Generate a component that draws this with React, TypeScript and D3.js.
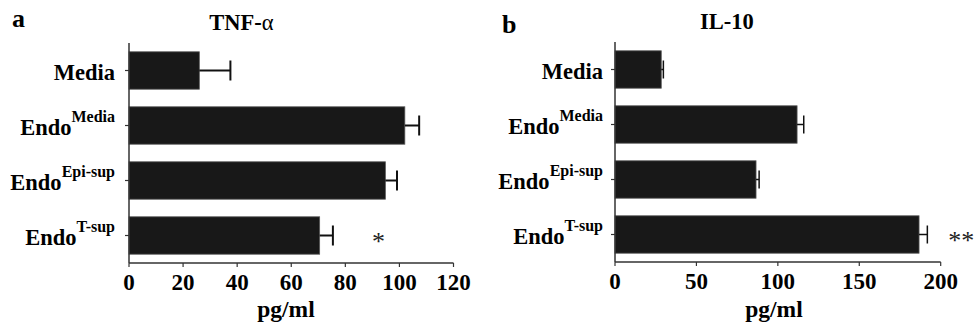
import React from 'react'
import * as d3 from 'd3'

const labelBase = ['Media', 'Endo', 'Endo', 'Endo']
const labelSup = ['', 'Media', 'Epi-sup', 'T-sup']

const tnfValues = [26, 102, 94.8, 70.5]
const tnfErrors = [11.5, 5.3, 4.3, 4.9]
const tnfTicks = [0, 20, 40, 60, 80, 100, 120]

const il10Values = [28.4, 111.8, 86.6, 186.7]
const il10Errors = [1.3, 4.1, 1.9, 5.1]
const il10Ticks = [0, 50, 100, 150, 200]

const FONT = '"Liberation Serif", "Times New Roman", serif'

type PanelProps = {
  letter: string
  title: string
  titleGreek: string
  values: number[]
  errors: number[]
  ticks: number[]
  x0: number
  x1: number
  y0: number
  y1: number
  letterX: number
  letterY: number
  titleX: number
  titleY: number
  unitX: number
  labelGap: number
  capH: number
  errWidth: number
  star: string
  starOffset: number
}

function Panel(p: PanelProps) {
  const xScale = d3.scaleLinear()
    .domain([0, p.ticks[p.ticks.length - 1]])
    .range([p.x0, p.x1])

  const yScale = d3.scaleBand<number>()
    .domain(d3.range(p.values.length))
    .range([p.y0, p.y1])
    .paddingInner(0.32)
    .paddingOuter(0.16)

  const bw = yScale.bandwidth()
  const axisColor = '#333'

  return (
    <g fontFamily={FONT}>
      <text x={p.letterX} y={p.letterY} fontSize={26} fontWeight="bold">{p.letter}</text>
      <text x={p.titleX} y={p.titleY} fontSize={22.5} fontWeight="bold" textAnchor="middle">
        <tspan>{p.title}</tspan>
        {p.titleGreek ? <tspan fontWeight="normal">{p.titleGreek}</tspan> : null}
      </text>

      {/* bars */}
      {p.values.map((v, i) => (
        <rect key={'b' + i}
          x={xScale(0)} y={yScale(i)}
          width={xScale(v) - xScale(0)} height={bw}
          fill="#181818" stroke="#555" strokeWidth={0.8} />
      ))}

      {/* error bars */}
      {p.values.map((v, i) => {
        const cy = (yScale(i) as number) + bw / 2
        const xe = xScale(v + p.errors[i])
        return (
          <g key={'e' + i} stroke="#111" strokeWidth={p.errWidth}>
            <line x1={xScale(v)} x2={xe} y1={cy} y2={cy} />
            <line x1={xe} x2={xe} y1={cy - p.capH / 2} y2={cy + p.capH / 2} />
          </g>
        )
      })}

      {/* y axis */}
      <line x1={p.x0} x2={p.x0} y1={p.y0} y2={p.y1} stroke={axisColor} strokeWidth={1.5} />
      {p.values.map((_, i) => {
        const cy = (yScale(i) as number) + bw / 2
        return (
          <g key={'l' + i}>
            <line x1={p.x0 - 4} x2={p.x0} y1={cy} y2={cy} stroke={axisColor} strokeWidth={1.2} />
            <text x={p.x0 - p.labelGap} y={cy + 9} fontSize={22.5} fontWeight="bold" textAnchor="end">
              <tspan>{labelBase[i]}</tspan>
              {labelSup[i] ? <tspan dy={-13} fontSize={16}>{labelSup[i]}</tspan> : null}
            </text>
          </g>
        )
      })}

      {/* x axis */}
      <line x1={p.x0} x2={p.x1} y1={p.y1} y2={p.y1} stroke={axisColor} strokeWidth={1.5} />
      {p.ticks.map(t => (
        <g key={'t' + t}>
          <line x1={xScale(t)} x2={xScale(t)} y1={p.y1} y2={p.y1 + 4} stroke={axisColor} strokeWidth={1.2} />
          <text x={xScale(t)} y={p.y1 + 27} fontSize={23} fontWeight="bold" textAnchor="middle">{t}</text>
        </g>
      ))}
      <text x={p.unitX} y={317} fontSize={23.5} fontWeight="bold" textAnchor="middle">pg/ml</text>

      {/* significance marker */}
      <text
        x={xScale(p.values[3] + p.errors[3]) + p.starOffset}
        y={(yScale(3) as number) + bw / 2 + 14}
        fontSize={26} textAnchor="start" fill="#222">
        {p.star}
      </text>
    </g>
  )
}

export default function App() {
  return (
    <svg width={977} height={330} style={{ display: 'block', position: 'absolute', left: 0, top: 0 }}>
      <rect width={977} height={330} fill="#fff" />
      <Panel letter="a" title="TNF-" titleGreek="α" values={tnfValues} errors={tnfErrors} ticks={tnfTicks}
        x0={129} x1={453.5} y0={43} y1={263} letterX={12} letterY={27} titleX={241.5} titleY={30}
        unitX={286} labelGap={14} capH={20} errWidth={2} star="*" starOffset={39} />
      <Panel letter="b" title="IL-10" titleGreek="" values={il10Values} errors={il10Errors} ticks={il10Ticks}
        x0={615} x1={940.7} y0={42} y1={262} letterX={502} letterY={33} titleX={727} titleY={29}
        unitX={774} labelGap={12} capH={18} errWidth={1.5} star="**" starOffset={21} />
    </svg>
  )
}
